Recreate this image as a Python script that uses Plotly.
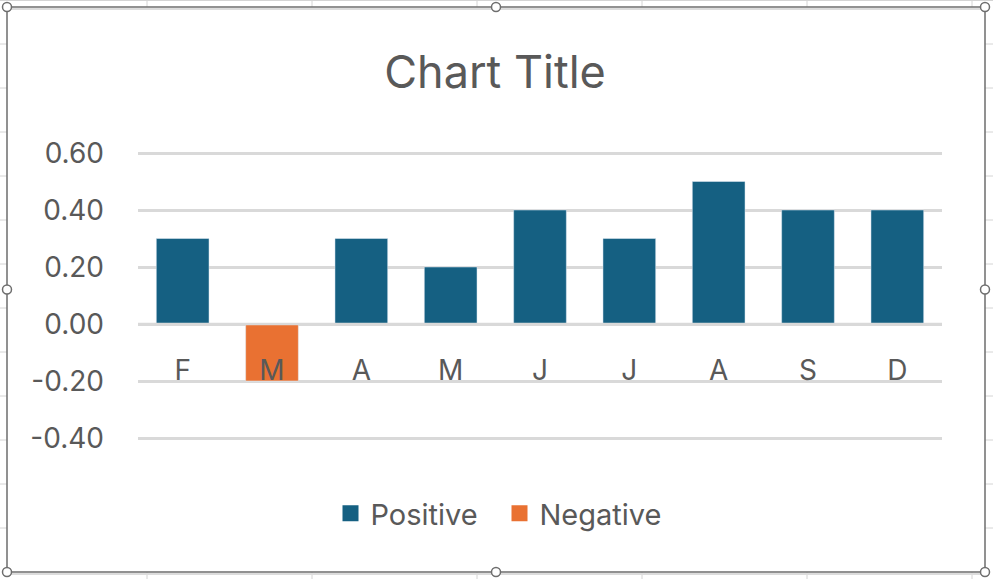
import plotly.graph_objects as go

# chart values
months = ["F", "M", "A", "M", "J", "J", "A", "S", "D"]
positive = [0.30, None, 0.30, 0.20, 0.40, 0.30, 0.50, 0.40, 0.40]
negative = [None, -0.20, None, None, None, None, None, None, None]
y_ticks = [-0.40, -0.20, 0.00, 0.20, 0.40, 0.60]
y_tick_labels = ["-0.40", "-0.20", "0.00", "0.20", "0.40", "0.60"]

BLUE = "#156082"
ORANGE = "#E97132"
GRID = "#D9D9D9"
TEXT = "#595959"
FONT = "Inter"

W, H = 993, 579
# plot area is 2px taller on each side than the -0.40..0.60 span, so plotly
# does not clip the gridlines sitting at the ends
PAD = 2
ML, MR, MT, MB = 138, 51, 153 - PAD, 141 - PAD
PW, PH = W - ML - MR, H - MT - MB
SPAN = 285  # px for the 1.0 of the value axis


def px(x):
    return (x - ML) / PW


def py(y):
    return (H - MB - y) / PH


xs = list(range(len(months)))

fig = go.Figure()
fig.add_trace(go.Bar(x=xs, y=positive, name="Positive", marker_color=BLUE,
                     showlegend=False))
fig.add_trace(go.Bar(x=xs, y=negative, name="Negative", marker_color=ORANGE,
                     showlegend=False))
# bigger square swatches for the legend
for name, col in [("Positive", BLUE), ("Negative", ORANGE)]:
    fig.add_trace(go.Scatter(x=[None], y=[None], mode="markers", name=name,
                             marker=dict(symbol="square", size=16, color=col)))

shapes = []
# zero line over the bars
shapes.append(dict(type="line", xref="paper", yref="y", x0=0, x1=1, y0=0, y1=0,
                   line=dict(color=GRID, width=2.5), layer="above"))

# sheet cell lines outside the chart frame
cell = dict(color="#D4D4D4", width=1)
for cx in [147, 312, 477, 642, 807, 972]:
    shapes.append(dict(type="line", xref="paper", yref="paper", x0=px(cx), x1=px(cx),
                       y0=py(0), y1=py(7), line=cell, layer="below"))
    shapes.append(dict(type="line", xref="paper", yref="paper", x0=px(cx), x1=px(cx),
                       y0=py(572), y1=py(579), line=cell, layer="below"))
for k in range(1, 13):
    cy = 44 * k
    shapes.append(dict(type="line", xref="paper", yref="paper", x0=px(0), x1=px(7),
                       y0=py(cy), y1=py(cy), line=cell, layer="below"))
    shapes.append(dict(type="line", xref="paper", yref="paper", x0=px(985), x1=px(993),
                       y0=py(cy), y1=py(cy), line=cell, layer="below"))
shapes.append(dict(type="line", xref="paper", yref="paper", x0=px(0), x1=px(993),
                   y0=py(0.5), y1=py(0.5), line=cell, layer="below"))
shapes.append(dict(type="line", xref="paper", yref="paper", x0=px(7), x1=px(985),
                   y0=py(9), y1=py(9), line=dict(color="#DCDCDC", width=2), layer="below"))
shapes.append(dict(type="line", xref="paper", yref="paper", x0=px(7), x1=px(985),
                   y0=py(574), y1=py(574), line=dict(color="#DCDCDC", width=2), layer="below"))

# selection frame and handles
shapes.append(dict(type="rect", xref="paper", yref="paper", x0=px(7), x1=px(985),
                   y0=py(7), y1=py(572), line=dict(color="#6E6E6E", width=1.5),
                   layer="above"))
r = 4.5
for hx, hy in [(7, 7), (496, 7), (985, 7), (7, 289.5), (985, 289.5),
               (7, 572), (496, 572), (985, 572)]:
    shapes.append(dict(type="circle", xref="paper", yref="paper",
                       x0=px(hx - r), x1=px(hx + r), y0=py(hy + r), y1=py(hy - r),
                       fillcolor="white", line=dict(color="#6E6E6E", width=1.5),
                       layer="above"))

fig.update_layout(
    width=W, height=H,
    margin=dict(l=ML, r=MR, t=MT, b=MB),
    paper_bgcolor="white", plot_bgcolor="white",
    font=dict(family=FONT, size=28, color=TEXT),
    title=dict(text="Chart Title", x=0.4985, xanchor="center",
               y=1 - 72.5 / H, yanchor="middle",
               font=dict(family=FONT, size=45, color=TEXT)),
    barmode="relative", bargap=0.41,
    showlegend=True,
    legend=dict(orientation="h", x=px(499.5), xanchor="center",
                y=py(513.5), yanchor="middle", entrywidth=124,
                font=dict(family=FONT, size=29, color=TEXT)),
    shapes=shapes,
)
fig.update_xaxes(range=[-0.5, len(months) - 0.5], tickvals=xs, ticktext=months,
                 showgrid=False, zeroline=False, showline=False, ticks="",
                 anchor="free", position=py(324.5), ticklabelstandoff=26)
fig.update_yaxes(range=[-0.4 - PAD / SPAN, 0.6 + PAD / SPAN],
                 tickvals=y_ticks, ticktext=y_tick_labels,
                 showgrid=True, gridcolor=GRID, gridwidth=2.5,
                 zeroline=False, showline=False, ticks="", ticklabelstandoff=33)

# the page body has a default 8px margin; drop it so the figure sits at 0,0
fig.write_html("out.html", config={"displayModeBar": False},
               post_script="document.body.style.margin = '0';")
